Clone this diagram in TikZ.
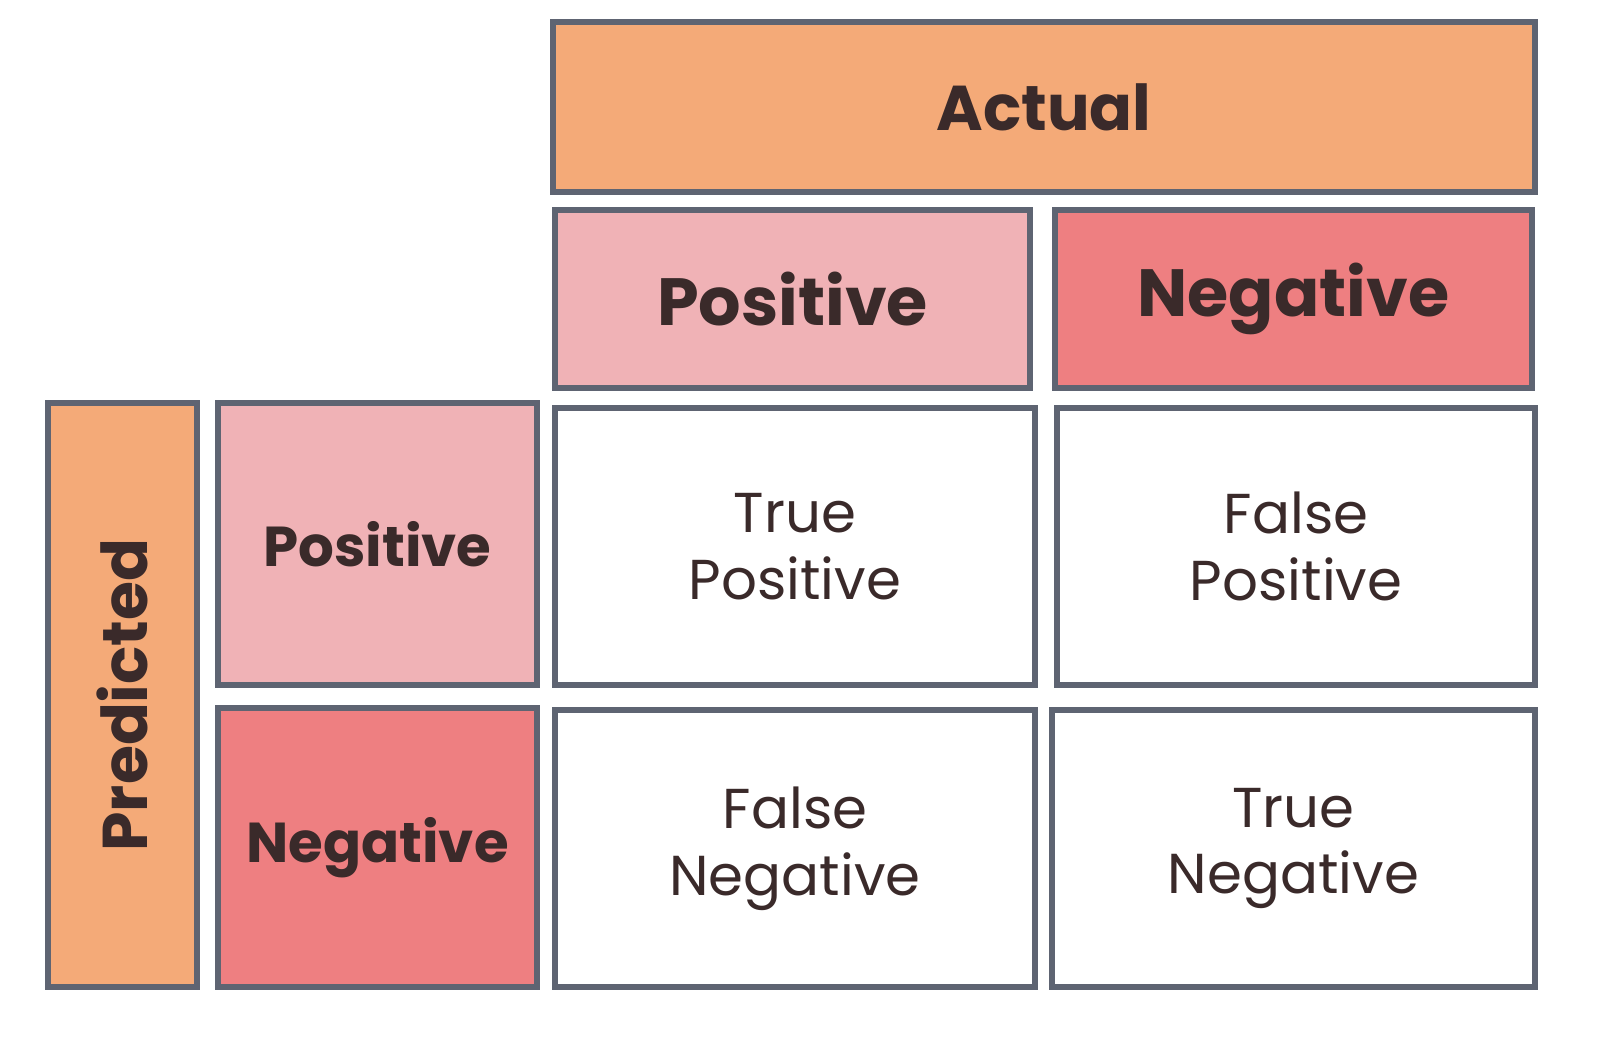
\documentclass[tikz,border=0pt]{standalone}
\usepackage{fontspec}
\setmainfont{Poppins}
\definecolor{headorange}{HTML}{F4AA78}
\definecolor{lightpink}{HTML}{F0B2B6}
\definecolor{darkpink}{HTML}{EE7F81}
\definecolor{edgegray}{HTML}{5E6472}
\definecolor{textdark}{HTML}{3A2A2A}
\tikzset{
  cell/.style={draw=edgegray, line width=1.5pt, align=center, text=textdark,
               font=\fontsize{16}{19}\selectfont, inner sep=0pt},
  head/.style={cell, font=\bfseries\fontsize{18}{22}\selectfont},
}
\begin{document}
\begin{tikzpicture}
  \useasboundingbox (0,0) rectangle (16.15,10.51);
  % column headers
  \node[head, fill=headorange, minimum width=9.82cm, minimum height=1.70cm] (actual) at (10.44,9.44) {Actual};
  \node[head, fill=lightpink, minimum width=4.75cm, minimum height=1.78cm, font=\bfseries\fontsize{19}{23}\selectfont] (actpos) at (7.925,7.52) {Positive};
  \node[head, fill=darkpink, minimum width=4.77cm, minimum height=1.78cm, font=\bfseries\fontsize{19}{23}\selectfont] (actneg) at (12.935,7.52) {Negative};
  % row headers
  \node[head, fill=headorange, minimum width=5.84cm, minimum height=1.49cm, rotate=90] (predicted) at (1.225,3.56) {Predicted};
  \node[head, fill=lightpink, minimum width=3.19cm, minimum height=2.82cm, font=\bfseries\fontsize{16}{19}\selectfont] (predpos) at (3.775,5.07) {Positive};
  \node[head, fill=darkpink, minimum width=3.19cm, minimum height=2.79cm, font=\bfseries\fontsize{16}{19}\selectfont] (predneg) at (3.775,2.035) {Negative};
  % matrix cells
  \node[cell, fill=white, minimum width=4.80cm, minimum height=2.77cm] (tp) at (7.95,5.045) {True\\Positive};
  \node[cell, fill=white, minimum width=4.78cm, minimum height=2.77cm] (fp) at (12.96,5.045) {False\\Positive};
  \node[cell, fill=white, minimum width=4.80cm, minimum height=2.77cm] (fn) at (7.95,2.025) {False\\Negative};
  \node[cell, fill=white, minimum width=4.83cm, minimum height=2.77cm] (tn) at (12.935,2.025) {True\\Negative};
\end{tikzpicture}
\end{document}
